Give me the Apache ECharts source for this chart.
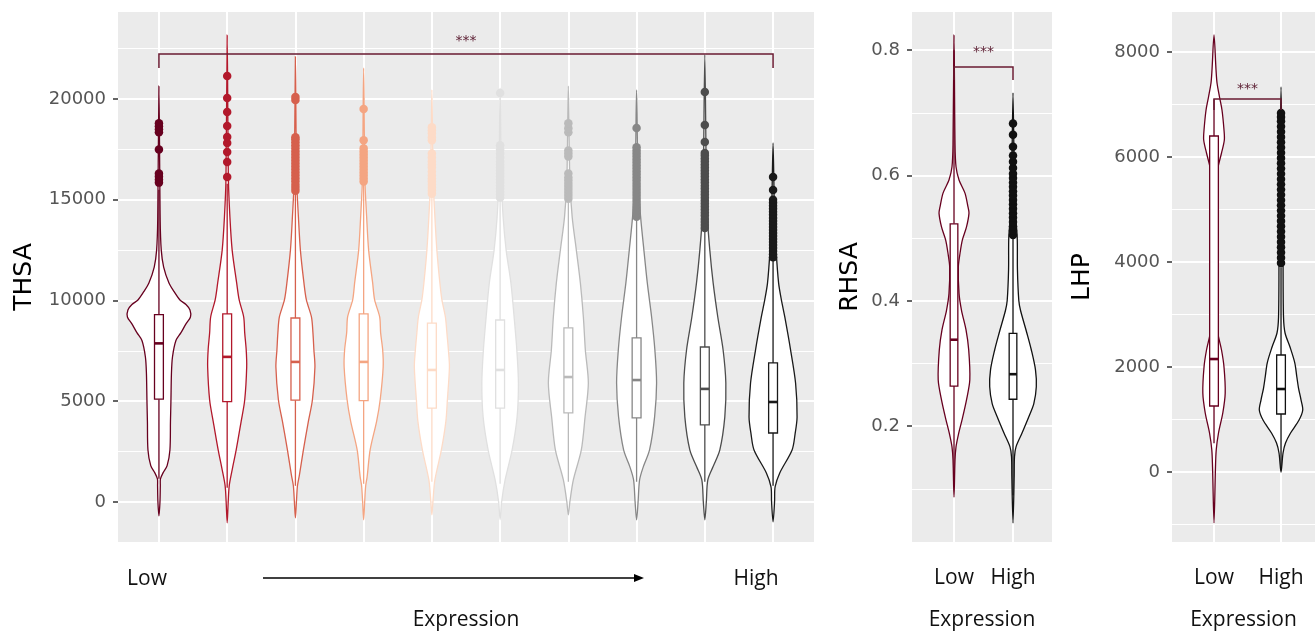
<!DOCTYPE html>
<html>
<head>
<meta charset="utf-8">
<title>THSA / RHSA / LHP by expression</title>
<script src="https://cdn.jsdelivr.net/npm/echarts@6/dist/echarts.min.js"></script>
<style>
  html, body { margin: 0; padding: 0; background: #fff; }
  #chart { width: 1315px; height: 631px; }
</style>
</head>
<body>
<div id="chart"></div>
<script>
// ---- values ----
// THSA: ten expression bins, low -> high
const thsaLevels = [0, 1, 2, 3, 4, 5, 6, 7, 8, 9];
const thsaColors = ['#67001F', '#B2182B', '#D6604D', '#F4A582', '#FDDBC7',
                    '#E0E0E0', '#BABABA', '#878787', '#4D4D4D', '#1A1A1A'];
// violin outline: [value, half width in category units]
const thsaDensity = [
  [[-695,0],[0,0.015],[800,0.02],[1140,0.022],[1440,0.06],[1800,0.12],[2580,0.161],[4000,0.169],[5060,0.176],[6350,0.183],[7180,0.198],[8010,0.249],[8400,0.323],[8840,0.396],[9180,0.462],[9530,0.455],[9800,0.396],[10025,0.308],[10450,0.22],[10870,0.147],[11660,0.069],[12500,0.034],[14000,0.018],[20640,0]],
  [[-1040,0],[0,0.015],[800,0.03],[1590,0.073],[2580,0.132],[4000,0.205],[5060,0.257],[6700,0.286],[7540,0.279],[8390,0.257],[9180,0.242],[10025,0.176],[10870,0.139],[12500,0.073],[14150,0.04],[16000,0.018],[23170,0]],
  [[-790,0],[0,0.015],[800,0.03],[1340,0.059],[2580,0.117],[4000,0.19],[5060,0.249],[6700,0.286],[7540,0.271],[8390,0.257],[9180,0.235],[10025,0.161],[10870,0.125],[12500,0.073],[14150,0.044],[16000,0.018],[22100,0]],
  [[-890,0],[0,0.015],[800,0.03],[1240,0.051],[2580,0.095],[4000,0.19],[5060,0.242],[6700,0.286],[7540,0.279],[8390,0.249],[9180,0.235],[10025,0.161],[10870,0.132],[12500,0.073],[14150,0.044],[16000,0.018],[21540,0]],
  [[-645,0],[0,0.015],[1090,0.044],[2580,0.139],[4000,0.205],[5060,0.227],[6700,0.257],[7540,0.242],[8390,0.22],[9180,0.198],[10025,0.147],[10870,0.117],[12500,0.073],[14150,0.044],[16000,0.018],[20450,0]],
  [[-890,0],[0,0.022],[1090,0.073],[2580,0.176],[4220,0.249],[5900,0.268],[7540,0.245],[9180,0.205],[10870,0.158],[12500,0.088],[14150,0.044],[16000,0.018],[20540,0]],
  [[-645,0],[0,0.022],[1090,0.073],[2580,0.19],[4220,0.245],[5900,0.293],[7540,0.249],[9180,0.22],[10870,0.176],[12500,0.117],[14150,0.056],[16000,0.022],[20640,0]],
  [[-890,0],[0,0.022],[1090,0.044],[1740,0.098],[2580,0.19],[4220,0.264],[5900,0.293],[7540,0.268],[9180,0.22],[10870,0.157],[12500,0.107],[14150,0.059],[16000,0.022],[20450,0]],
  [[-890,0],[0,0.022],[1090,0.044],[1740,0.12],[2580,0.22],[4220,0.293],[5900,0.308],[7540,0.268],[9180,0.19],[10870,0.122],[12500,0.073],[14150,0.037],[16000,0.022],[22200,0]],
  [[-990,0],[0,0.022],[745,0.03],[1440,0.098],[2580,0.279],[3380,0.323],[4220,0.352],[5900,0.33],[7540,0.257],[9180,0.172],[10025,0.122],[10870,0.081],[12500,0.044],[14000,0.022],[17820,0]]
];
// [lower whisker, Q1, median, Q3, upper whisker]
const thsaBoxes = [
  [1150, 5100, 7870, 9300, 15500],
  [700, 4980, 7200, 9330, 15800],
  [800, 5050, 6950, 9130, 15300],
  [900, 5030, 6950, 9330, 15800],
  [1000, 4660, 6550, 8880, 15200],
  [900, 4660, 6550, 9030, 15000],
  [1000, 4420, 6200, 8640, 14950],
  [1000, 4170, 6050, 8140, 14050],
  [1000, 3820, 5610, 7690, 13500],
  [800, 3420, 4960, 6900, 12100]
];
const thsaOutliers = [
  [15850, 16000, 16150, 16300, 17500, 18350, 18500, 18650, 18800],
  [16130, 16870, 17370, 17820, 18110, 18660, 19350, 20050, 21140],
  [15450, 15600, 15750, 15900, 16050, 16200, 16350, 16500, 16650, 16800, 16950, 17100, 17250, 17400, 17550, 17700, 17850, 18000, 18100, 19950, 20100],
  [15900, 16050, 16200, 16350, 16500, 16650, 16800, 16950, 17100, 17250, 17400, 17550, 17950, 19500],
  [15300, 15450, 15600, 15750, 15900, 16050, 16200, 16400, 16600, 16750, 16900, 17100, 17300, 17950, 18100, 18300, 18450, 18600],
  [15100, 15250, 15400, 15550, 15700, 15850, 16000, 16150, 16300, 16450, 16600, 16750, 16900, 17100, 17300, 17500, 17700, 20300],
  [15050, 15200, 15350, 15500, 15650, 15800, 15950, 16100, 16300, 17150, 17300, 17450, 18350, 18550, 18800],
  [14150, 14300, 14450, 14600, 14750, 14900, 15050, 15200, 15350, 15500, 15650, 15800, 15950, 16100, 16250, 16400, 16550, 16700, 16850, 17000, 17150, 17300, 17450, 17600, 18560],
  [13600, 13750, 13900, 14050, 14200, 14350, 14500, 14650, 14800, 14950, 15100, 15250, 15400, 15550, 15700, 15850, 16000, 16150, 16300, 16450, 16600, 16750, 16900, 17050, 17200, 17320, 17870, 18710, 20350],
  [12150, 12300, 12450, 12600, 12750, 12900, 13050, 13200, 13350, 13500, 13650, 13800, 13950, 14100, 14250, 14400, 14550, 14700, 14850, 15000, 15480, 16130]
];
const thsaTicks = [0, 5000, 10000, 15000, 20000];
// [from level, to level, bracket value, drop value, star value]
const thsaSig = [0, 9, 22233, 21540, 23027];

// RHSA and LHP: Low vs High
const groupLabels = ['Low', 'High'];
const pairColors = ['#67001F', '#111111'];

const rhsaDensity = [
  [[0.087,0],[0.146,0.017],[0.167,0.034],[0.189,0.08],[0.21,0.136],[0.242,0.212],[0.274,0.268],[0.322,0.249],[0.354,0.203],[0.385,0.127],[0.412,0.085],[0.454,0.073],[0.476,0.102],[0.497,0.141],[0.518,0.212],[0.54,0.254],[0.55,0.237],[0.572,0.186],[0.593,0.085],[0.614,0.034],[0.65,0.017],[0.824,0]],
  [[0.0455,0],[0.12,0.02],[0.151,0.025],[0.167,0.051],[0.189,0.153],[0.215,0.268],[0.236,0.353],[0.263,0.395],[0.29,0.381],[0.322,0.31],[0.348,0.237],[0.385,0.127],[0.401,0.098],[0.45,0.075],[0.502,0.071],[0.55,0.03],[0.6,0.02],[0.732,0]]
];
const rhsaBoxes = [
  [0.12, 0.264, 0.338, 0.523, 0.8],
  [0.09, 0.243, 0.283, 0.348, 0.5]
];
const rhsaOutliers = [
  [],
  [0.505, 0.512, 0.519, 0.526, 0.533, 0.54, 0.547, 0.554, 0.561, 0.568, 0.575, 0.582, 0.589, 0.596, 0.603, 0.612, 0.622, 0.632, 0.646, 0.665, 0.683]
];
const rhsaTicks = [0.2, 0.4, 0.6, 0.8];
const rhsaSig = [0, 1, 0.7733, 0.7526, 0.802];

const lhpDensity = [
  [[-971,0],[95,0.022],[419,0.033],[743,0.067],[1124,0.131],[1505,0.167],[2000,0.149],[2324,0.112],[2705,0.049],[3200,0.04],[4500,0.037],[5562,0.03],[5810,0.06],[6076,0.112],[6324,0.154],[6514,0.149],[6895,0.119],[7143,0.082],[7410,0.045],[7657,0.03],[8324,0]],
  [[0,0],[362,0.03],[552,0.067],[743,0.142],[990,0.269],[1181,0.324],[1371,0.299],[1600,0.261],[1810,0.236],[2076,0.206],[2381,0.134],[2648,0.06],[2952,0.037],[3981,0.03],[5500,0.022],[7333,0]]
];
const lhpBoxes = [
  [550, 1257, 2152, 6400, 7100],
  [30, 1105, 1581, 2229, 3900]
];
const lhpOutliers = [
  [],
  [3980, 4080, 4180, 4280, 4380, 4480, 4580, 4680, 4780, 4880, 4980, 5080, 5180, 5280, 5380, 5480, 5580, 5680, 5780, 5880, 5980, 6080, 6180, 6280, 6380, 6480, 6580, 6680, 6760, 6840]
];
const lhpTicks = [0, 2000, 4000, 6000, 8000];
const lhpSig = [0, 1, 7105, 6895, 7352];

// ---- drawing ----
const BOX_HALF = 0.065;
const SIG_COLOR = '#6A1B32';

function violinRenderer(density, boxes, colors) {
  return function (params, api) {
    const i = params.dataIndex;
    const shape = density[i];
    const c = colors[i];
    const pts = shape.map(([v, w]) => api.coord([i + w, v]));
    for (let k = shape.length - 2; k > 0; k--) {
      pts.push(api.coord([i - shape[k][1], shape[k][0]]));
    }
    const [lo, q1, md, q3, hi] = boxes[i];
    const pLo = api.coord([i, lo]), pQ1 = api.coord([i, q1]);
    const pMd = api.coord([i, md]), pQ3 = api.coord([i, q3]), pHi = api.coord([i, hi]);
    const hw = api.size([BOX_HALF, 0])[0];
    const cx = pQ1[0];
    const line = { stroke: c, lineWidth: 1.3 };
    return {
      type: 'group',
      children: [
        { type: 'polygon', shape: { points: pts, smooth: 0.3 }, style: { fill: '#fff', stroke: c, lineWidth: 1.3 } },
        { type: 'line', shape: { x1: cx, y1: pLo[1], x2: cx, y2: pQ1[1] }, style: line },
        { type: 'line', shape: { x1: cx, y1: pQ3[1], x2: cx, y2: pHi[1] }, style: line },
        { type: 'rect', shape: { x: cx - hw, y: pQ3[1], width: hw * 2, height: pQ1[1] - pQ3[1] }, style: { fill: '#fff', stroke: c, lineWidth: 1.3 } },
        { type: 'line', shape: { x1: cx - hw, y1: pMd[1], x2: cx + hw, y2: pMd[1] }, style: { stroke: c, lineWidth: 2.6 } }
      ]
    };
  };
}

function bracketRenderer(sig) {
  return function (params, api) {
    const [x1, x2, y, drop, starY] = sig;
    const a = api.coord([x1, drop]), b = api.coord([x1, y]);
    const c = api.coord([x2, y]), d = api.coord([x2, drop]);
    const s = api.coord([(x1 + x2) / 2, starY]);
    return {
      type: 'group',
      children: [
        { type: 'polyline', shape: { points: [a, b, c, d] }, style: { stroke: SIG_COLOR, lineWidth: 1.5, fill: 'none' } },
        { type: 'text', x: s[0], y: s[1] + 3, style: { text: '***', fill: '#5E2236', font: '14px "DejaVu Sans"', align: 'center', verticalAlign: 'middle' } }
      ]
    };
  };
}

function outlierData(outliers) {
  const out = [];
  outliers.forEach((vals, i) => vals.forEach(v => out.push([i, v])));
  return out;
}

function panelSeries(idx, density, boxes, outliers, colors, sig) {
  return [
    {
      type: 'custom', xAxisIndex: idx, yAxisIndex: idx, z: 2, silent: true,
      renderItem: violinRenderer(density, boxes, colors),
      encode: { x: 0, y: 1 },
      data: boxes.map((b, i) => [i, b[2]])
    },
    {
      type: 'scatter', xAxisIndex: idx, yAxisIndex: idx, z: 3, silent: true,
      symbolSize: 8.5,
      itemStyle: { color: p => colors[p.data[0]], opacity: 1 },
      data: outlierData(outliers)
    },
    {
      type: 'custom', xAxisIndex: idx, yAxisIndex: idx, z: 4, silent: true,
      renderItem: bracketRenderer(sig),
      encode: { x: 0, y: 1 },
      data: [[sig[0], sig[2]]]
    }
  ];
}

const tickText = { color: '#555', fontFamily: 'DejaVu Sans', fontSize: 18 };
const catText = { color: '#111', fontFamily: 'Open Sans', fontSize: 21 };

function yAxisCfg(grid, min, max, ticks, name, gap, fmt) {
  return {
    type: 'value', gridIndex: grid, min, max,
    name, nameLocation: 'middle', nameGap: gap, nameRotate: 90,
    nameTextStyle: { color: '#000', fontFamily: 'DejaVu Sans', fontSize: 25 },
    axisLine: { show: false, onZero: false },
    axisTick: { show: true, length: 5, customValues: ticks, lineStyle: { color: '#333', width: 1.5 } },
    axisLabel: Object.assign({ customValues: ticks, margin: 12, formatter: fmt }, tickText),
    splitLine: { show: true, lineStyle: { color: '#fff', width: 2 } },
    minorTick: { show: false, splitNumber: 2 },
    minorSplitLine: { show: true, lineStyle: { color: '#fff', width: 1 } }
  };
}

function xAxisCfg(grid, min, max, ticks, labels) {
  return {
    type: 'value', gridIndex: grid, min, max,
    name: 'Expression', nameLocation: 'middle', nameGap: 68,
    nameTextStyle: catText,
    axisLine: { show: false, onZero: false },
    axisTick: { show: false, customValues: ticks },
    axisLabel: labels
      ? Object.assign({ customValues: ticks, margin: 26, formatter: v => labels[Math.round(v)] }, catText)
      : { show: false },
    splitLine: { show: true, lineStyle: { color: '#fff', width: 2 } },
    minorSplitLine: { show: false }
  };
}

const panelBg = { show: true, backgroundColor: '#EBEBEB', borderWidth: 0, outerBoundsMode: 'none', containLabel: false };

const chart = echarts.init(document.getElementById('chart'), null, { renderer: 'canvas' });
chart.setOption({
  backgroundColor: '#fff',
  animation: false,
  grid: [
    Object.assign({ left: 118, top: 12, width: 696, height: 530 }, panelBg),
    Object.assign({ left: 912, top: 12, width: 140, height: 530 }, panelBg),
    Object.assign({ left: 1172, top: 12, right: 0, height: 530 }, panelBg)
  ],
  xAxis: [
    xAxisCfg(0, -0.6, 9.6, thsaLevels, null),
    xAxisCfg(1, -0.712, 1.661, [0, 1], groupLabels),
    xAxisCfg(2, -0.627, 1.507, [0, 1], groupLabels)
  ],
  yAxis: [
    yAxisCfg(0, -1990, 24320, thsaTicks, 'THSA', 81, v => String(v)),
    yAxisCfg(1, 0.0152, 0.861, rhsaTicks, 'RHSA', 49, v => v.toFixed(1)),
    yAxisCfg(2, -1333, 8762, lhpTicks, 'LHP', 77, v => String(v))
  ],
  graphic: [
    { type: 'text', x: 147, y: 579, style: { text: 'Low', align: 'center', verticalAlign: 'middle', fill: '#111', font: '21px "Open Sans"' } },
    { type: 'text', x: 756, y: 579, style: { text: 'High', align: 'center', verticalAlign: 'middle', fill: '#111', font: '21px "Open Sans"' } },
    { type: 'line', shape: { x1: 263, y1: 578, x2: 636, y2: 578 }, style: { stroke: '#000', lineWidth: 1.3 } },
    { type: 'polygon', shape: { points: [[644, 578], [634, 574], [634, 582]] }, style: { fill: '#000' } }
  ],
  series: [].concat(
    panelSeries(0, thsaDensity, thsaBoxes, thsaOutliers, thsaColors, thsaSig),
    panelSeries(1, rhsaDensity, rhsaBoxes, rhsaOutliers, pairColors, rhsaSig),
    panelSeries(2, lhpDensity, lhpBoxes, lhpOutliers, pairColors, lhpSig)
  )
});
window.addEventListener('resize', () => chart.resize());
</script>
</body>
</html>
